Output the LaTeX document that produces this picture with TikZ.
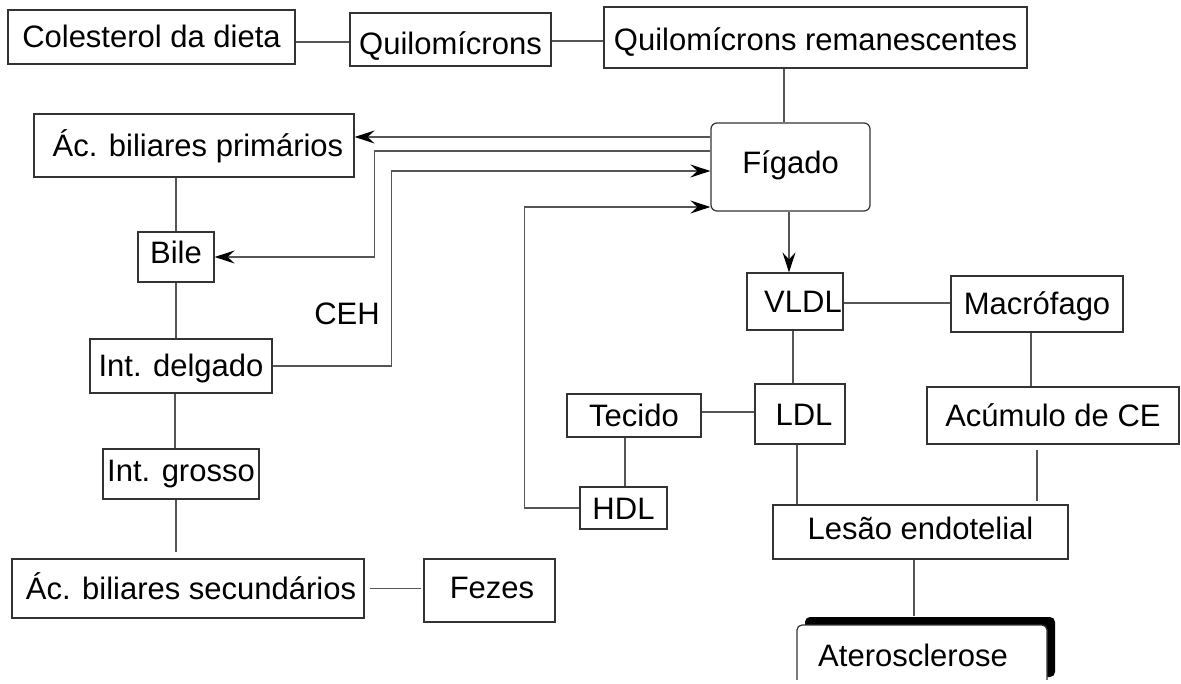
\documentclass[tikz,border=0pt]{standalone}
\usepackage{fontspec}
\setmainfont{Liberation Sans}
\usetikzlibrary{arrows.meta,shadows}
\definecolor{ln}{HTML}{555555}
\definecolor{bd}{HTML}{333333}
\begin{document}
\begin{tikzpicture}[x=1pt,y=-1pt,
  box/.style={draw=bd,line width=1.2pt,fill=white,inner sep=0pt,
    font=\fontsize{31}{36}\selectfont,text height=22pt,text depth=0pt},
  lbl/.style={inner sep=0pt,font=\fontsize{31}{36}\selectfont,text height=22pt,text depth=0pt},
  conn/.style={draw=ln,line width=1.2pt},
  arr/.style={conn,-{Stealth[length=20pt,width=13pt,inset=7pt,color=black]}}]
\useasboundingbox (0,0) rectangle (1181,684);
\begin{scope}
\clip (0,0) rectangle (1181,679);
% boxes
\node[box,minimum width=287pt,minimum height=54pt] (col) at (151.5,37) {Colesterol da dieta};
\node[box,minimum width=201pt,minimum height=53pt,text height=30pt] (quil) at (450.5,39.5) {Quilomícrons};
\node[box,minimum width=423pt,minimum height=61pt,text height=26pt] (qr) at (815.5,37.5) {Quilomícrons remanescentes};
\node[box,rounded corners=6pt,minimum width=159pt,minimum height=88pt,text depth=8pt] (fig) at (790.5,167) {Fígado};
\node[box,minimum width=320pt,minimum height=63pt] (acp) at (194,145.5) {\hspace*{8pt}Ác. biliares primários};
\node[box,minimum width=76pt,minimum height=50pt,text depth=9pt] (bile) at (176,257) {Bile};
\node[box,minimum width=182pt,minimum height=54pt] (intd) at (181,366) {Int. delgado};
\node[box,minimum width=156pt,minimum height=50pt,text depth=8pt] (intg) at (181,474) {Int. grosso};
\node[box,minimum width=352pt,minimum height=59pt] (acs) at (188,588.5) {\hspace*{6pt}Ác. biliares secundários};
\node[box,minimum width=131pt,minimum height=63pt,text depth=6pt] (fez) at (489.5,590.5) {\hspace*{5pt}Fezes};
\node[lbl] (ceh) at (347,314) {CEH};
\node[box,minimum width=96pt,minimum height=57pt] (vldl) at (795,301.5) {\hspace*{16pt}VLDL};
\node[box,minimum width=172pt,minimum height=56pt] (mac) at (1037,304) {Macrófago};
\node[box,minimum width=252pt,minimum height=57pt] (acu) at (1053,415.5) {Acúmulo de CE};
\node[box,minimum width=90pt,minimum height=60pt] (ldl) at (800,414) {\hspace*{8pt}LDL};
\node[box,minimum width=134pt,minimum height=43pt] (tec) at (634,415.5) {Tecido};
\node[box,minimum width=87pt,minimum height=42pt] (hdl) at (623.5,508) {HDL};
\node[box,minimum width=295pt,minimum height=54pt,text depth=7pt] (les) at (920.5,532) {Lesão endotelial};
\node[box,rounded corners=5pt,minimum width=250pt,minimum height=60pt,
  drop shadow={shadow xshift=8pt,shadow yshift=8pt,fill=black,opacity=1}] (ath) at (922,655) {\hspace*{-18pt}Aterosclerose};
% connectors
\draw[conn] ([yshift=-5pt]col.east) -- ([yshift=-5pt]col.east -| quil.west);
\draw[conn] ([yshift=-1.5pt]quil.east) -- ([yshift=-1.5pt]quil.east -| qr.west);
\draw[conn] ([xshift=-31.5pt]qr.south) -- ([xshift=-31.5pt]qr.south |- fig.north);
\draw[arr] ([yshift=30pt]fig.west) -- ([yshift=30pt]fig.west -| acp.east);
\draw[arr] ([yshift=16pt]fig.west) -- ++(-336,0) |- (bile.east);
\draw[arr] (intd.east) -- ++(119,0) |- ([yshift=-4pt]fig.west);
\draw[arr] (hdl.west) -- ++(-55,0) |- ([yshift=-40pt]fig.west);
\draw[arr] ([xshift=-1.5pt]fig.south) -- ([xshift=-1.5pt]fig.south |- vldl.north);
\draw[conn] (bile.north |- acp.south) -- (bile.north);
\draw[conn] (bile.south) -- (bile.south |- intd.north);
\draw[conn] ([xshift=-6pt]intd.south) -- ([xshift=-6pt]intd.south |- intg.north);
\draw[conn] ([xshift=-5pt]intg.south) -- ++(0,52);
\draw[conn] ([xshift=5pt]acs.east) -- ([xshift=-2pt]acs.east -| fez.west);
\draw[conn] ([yshift=-1.5pt]vldl.east) -- ([yshift=-1.5pt]vldl.east -| mac.west);
\draw[conn] ([xshift=-2pt]vldl.south) -- ([xshift=-2pt]vldl.south |- ldl.north);
\draw[conn] ([xshift=-6pt]mac.south) -- ([xshift=-6pt]mac.south |- acu.north);
\draw[conn] ([yshift=2pt]ldl.west) -- ([yshift=2pt]ldl.west -| tec.east);
\draw[conn] ([xshift=-9pt]tec.south) -- ([xshift=-9pt]tec.south |- hdl.north);
\draw[conn] ([xshift=-3pt]ldl.south) -- ([xshift=-3pt]ldl.south |- les.north);
\draw[conn] ([xshift=-16pt,yshift=-5pt]acu.south) -- ([xshift=-16pt,yshift=3pt]acu.south |- les.north);
\draw[conn] ([xshift=-6.5pt]les.south) -- ++(0,56);
\end{scope}
\end{tikzpicture}
\end{document}
